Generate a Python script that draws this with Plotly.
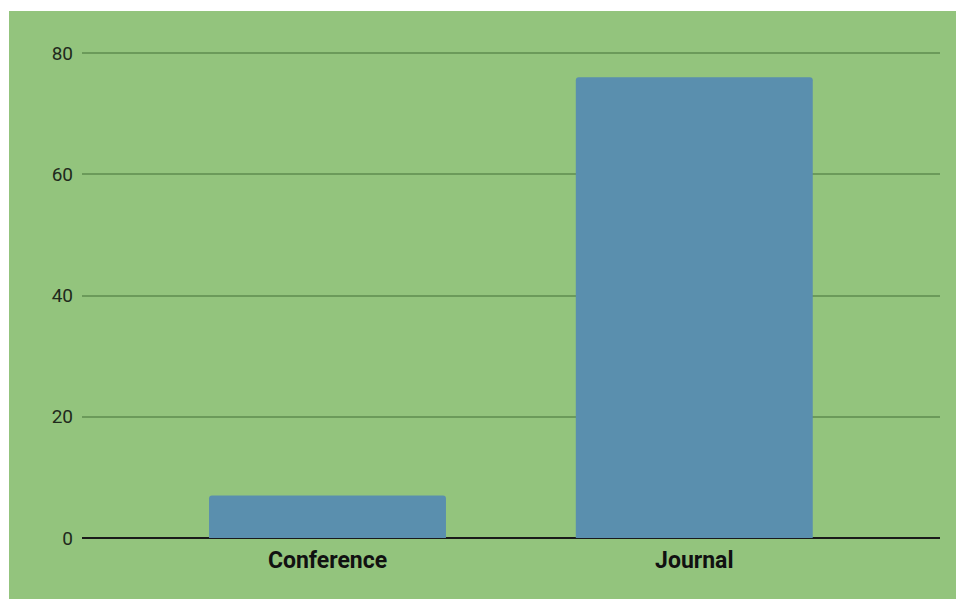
import plotly.graph_objects as go

categories = ["Conference", "Journal"]
values = [7, 76]
y_ticks = [0, 20, 40, 60, 80]

GREEN = "#93c47d"
BAR = "#5a8fae"
GRID = "#6b9a5a"

W, H = 956, 599
L = 82
R = 956 - 940
T = 51
B = 599 - 538
pw, ph = W - L - R, H - T - B
ytop = 80 * ph / (538 - 53)

fig = go.Figure(go.Bar(
    x=list(range(len(categories))), y=values,
    marker=dict(color=BAR, line=dict(width=0)),
    width=0.646,
    hoverinfo="skip",
))

fig.update_layout(
    width=W, height=H,
    margin=dict(l=L, r=R, t=T, b=B, pad=0),
    paper_bgcolor=GREEN,
    plot_bgcolor=GREEN,
    barcornerradius=3,
    showlegend=False,
    hovermode=False,
    font=dict(family="Roboto", color="#1f2a1c"),
    xaxis=dict(
        range=[-0.6693, 1.6699],
        tickmode="array", tickvals=list(range(len(categories))),
        ticktext=[f"<b>{c}</b>" for c in categories],
        tickfont=dict(size=23, color="#111111"),
        showgrid=False, zeroline=False, showline=False,
        ticks="", fixedrange=True, ticklabelstandoff=6,
    ),
    yaxis=dict(
        range=[0, ytop],
        tickmode="array", tickvals=y_ticks,
        tickfont=dict(size=19, color="#1f2a1c"),
        showgrid=True, gridcolor=GRID, gridwidth=2,
        zeroline=True, zerolinecolor="#1a1a1a", zerolinewidth=2,
        showline=False, ticks="", ticklabelstandoff=8, fixedrange=True,
    ),
    shapes=[dict(
        type="rect", xref="paper", yref="paper",
        x0=-L / pw - 0.02, x1=(9 - L) / pw,
        y0=-(B + 5) / ph, y1=(H - B + 5) / ph,
        fillcolor="white", line=dict(width=0), layer="below",
    ), dict(
        type="rect", xref="paper", yref="paper",
        x0=-L / pw - 0.05, x1=1.05,
        y0=(H - B - 11) / ph, y1=(H - B + 5) / ph,
        fillcolor="white", line=dict(width=0), layer="below",
    )],
)

fig.write_html(
    "out.html",
    config={"displayModeBar": False},
    post_script="document.body.style.margin='0';"
                "document.documentElement.style.overflow='hidden';"
                "document.body.style.overflow='hidden';",
)
